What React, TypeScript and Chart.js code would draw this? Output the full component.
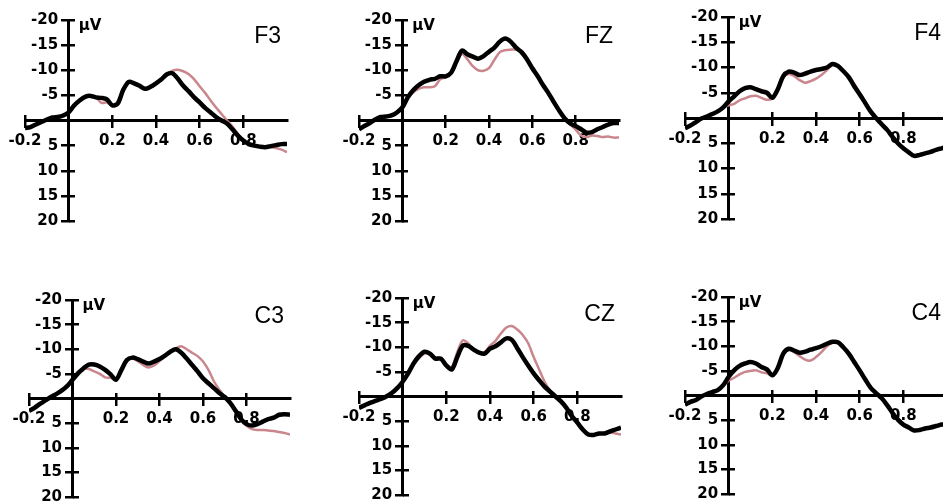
import React, { useEffect, useRef } from "react";
import { Chart, registerables } from "chart.js";

Chart.register(...registerables);

// time axis (s)
const times = [
  -0.2, -0.175, -0.15, -0.125, -0.1, -0.075, -0.05, -0.025, 0,
  0.025, 0.05, 0.075, 0.1, 0.125, 0.15, 0.175, 0.2, 0.225, 0.25,
  0.275, 0.3, 0.325, 0.35, 0.375, 0.4, 0.425, 0.45, 0.475, 0.5,
  0.525, 0.55, 0.575, 0.6, 0.625, 0.65, 0.675, 0.7, 0.725, 0.75,
  0.775, 0.8, 0.825, 0.85, 0.875, 0.9, 0.925, 0.95, 0.975, 1.0,
];

// amplitudes (µV), negative up
const f3Black = [1.5, 1.3, 0.8, 0.3, -0.2, -0.6, -0.7, -1.0, -1.6,
  -3.0, -4.0, -4.7, -4.9, -4.6, -4.5, -4.2, -3.0, -3.4, -6.1,
  -7.7, -7.4, -6.9, -6.3, -6.7, -7.4, -8.2, -9.2, -9.4, -8.3,
  -6.9, -5.8, -4.6, -3.6, -2.5, -1.6, -0.7, 0.0, 0.6, 1.75,
  3.0, 4.0, 4.7, 5.0, 5.2, 5.3, 5.1, 4.9, 4.7, 4.7];
const f3Pink = [1.5, 1.3, 0.8, 0.3, -0.2, -0.6, -0.7, -1.0, -1.6,
  -3.0, -4.0, -4.7, -4.9, -4.6, -3.5, -3.6, -3.0, -3.5, -6.1,
  -7.6, -7.4, -6.9, -6.3, -6.6, -7.4, -8.2, -9.0, -9.9, -10.1,
  -9.8, -9.2, -8.2, -6.8, -5.5, -4.0, -2.6, -1.3, 0.0, 1.2,
  2.7, 4.0, 4.7, 5.0, 5.2, 5.3, 5.3, 5.5, 5.8, 6.3];

const fzBlack = [1.75, 1.1, 0.5, -0.2, -0.7, -0.8, -1.0, -1.6, -2.6,
  -4.6, -6.0, -7.0, -7.7, -8.1, -8.3, -8.8, -8.8, -9.5, -11.8,
  -13.9, -13.2, -12.7, -12.3, -12.8, -13.7, -14.5, -15.7, -16.3, -15.7,
  -14.5, -13.6, -12.2, -10.4, -8.8, -7.0, -5.4, -3.6, -1.9, -0.4,
  0.6, 1.1, 1.75, 2.4, 2.3, 1.75, 1.3, 0.8, 0.5, 0.5];
const fzPink = [1.75, 1.1, 0.5, -0.2, -0.7, -0.8, -1.0, -1.6, -2.6,
  -4.4, -5.6, -6.3, -6.6, -6.6, -6.8, -8.2, -8.6, -9.5, -11.6,
  -13.2, -12.2, -10.8, -10.0, -9.9, -10.4, -12.1, -13.6, -14.0, -14.1,
  -14.1, -13.8, -12.4, -10.5, -8.8, -7.0, -5.4, -3.6, -1.9, -0.4,
  0.8, 1.8, 3.0, 3.3, 3.0, 3.1, 3.3, 3.2, 3.4, 3.4];

const f4Black = [2.0, 1.5, 0.8, 0.1, -0.3, -0.8, -1.3, -2.1, -3.3,
  -4.3, -5.3, -5.9, -6.1, -5.7, -5.3, -5.0, -4.0, -5.7, -8.3,
  -9.2, -9.0, -8.5, -8.8, -9.2, -9.5, -9.7, -10.0, -10.7, -10.3,
  -9.3, -8.1, -6.3, -4.7, -3.0, -1.3, 0.0, 1.2, 2.3, 3.7,
  5.0, 6.0, 6.8, 7.5, 7.3, 7.0, 6.7, 6.3, 6.0, 5.7];
const f4Pink = [2.0, 1.5, 0.8, 0.1, -0.3, -0.8, -1.3, -2.1, -2.5,
  -2.8, -3.5, -3.9, -4.3, -4.4, -4.0, -3.6, -3.9, -5.5, -8.0,
  -8.7, -8.3, -7.5, -7.0, -7.3, -7.8, -8.5, -9.5, -10.5, -10.3,
  -9.3, -8.2, -6.8, -5.0, -3.2, -1.3, 0.0, 1.2, 2.3, 3.7,
  5.0, 6.0, 6.8, 7.5, 7.3, 7.0, 6.7, 6.3, 6.0, 5.7];

const c3Black = [2.5, 1.9, 1.1, 0.4, -0.3, -0.9, -1.6, -2.5, -3.8,
  -5.1, -6.1, -6.9, -6.9, -6.5, -5.8, -4.9, -3.8, -5.8, -7.8,
  -8.3, -8.0, -7.5, -7.1, -7.5, -8.0, -8.7, -9.5, -10.0, -9.3,
  -8.1, -6.8, -5.5, -4.1, -3.1, -2.1, -1.1, -0.3, 0.9, 2.5,
  4.2, 5.2, 5.5, 5.2, 4.7, 4.2, 3.9, 3.3, 3.2, 3.3];
const c3Pink = [2.5, 1.9, 1.1, 0.4, -0.3, -0.9, -1.6, -2.5, -3.8,
  -5.1, -6.0, -6.0, -5.5, -5.0, -4.3, -4.2, -3.8, -5.8, -7.6,
  -8.1, -7.6, -6.8, -6.3, -6.7, -7.6, -8.5, -9.4, -10.2, -10.6,
  -10.0, -9.3, -8.6, -7.5, -5.8, -3.5, -1.8, -0.4, 0.9, 2.5,
  4.3, 5.5, 6.2, 6.4, 6.4, 6.5, 6.6, 6.8, 7.0, 7.3];

const czBlack = [2.3, 1.8, 1.3, 0.9, 0.5, 0.0, -0.7, -1.7, -3.0,
  -4.7, -6.7, -8.2, -9.1, -8.7, -7.7, -7.7, -6.3, -5.5, -8.0,
  -10.3, -10.3, -9.5, -8.9, -8.7, -9.7, -10.2, -11.0, -11.8, -11.5,
  -9.8, -8.0, -6.3, -4.7, -3.3, -2.0, -1.0, 0.0, 1.0, 2.3,
  4.0, 5.3, 6.7, 7.7, 7.8, 7.5, 7.5, 7.1, 6.7, 6.3];
const czPink = [2.3, 1.8, 1.3, 0.9, 0.5, 0.0, -0.7, -1.7, -3.0,
  -4.7, -6.7, -7.8, -8.7, -8.5, -7.9, -7.8, -6.5, -6.0, -9.0,
  -11.4, -10.8, -9.5, -8.9, -9.0, -10.3, -11.3, -12.8, -14.0, -14.3,
  -13.6, -12.5, -10.8, -8.0, -5.5, -3.0, -1.2, 0.0, 1.0, 2.3,
  4.0, 5.3, 6.7, 7.7, 7.8, 7.5, 7.5, 7.3, 7.5, 7.7];

const c4Black = [1.9, 1.3, 0.9, 0.2, -0.3, -0.7, -1.1, -2.1, -3.8,
  -5.1, -6.0, -6.5, -6.8, -6.5, -5.8, -5.3, -4.1, -5.6, -8.5,
  -9.5, -9.1, -8.7, -8.9, -9.3, -9.6, -10.0, -10.5, -10.9, -10.8,
  -9.8, -8.5, -6.8, -5.1, -3.3, -1.6, -0.5, 0.5, 1.9, 3.5,
  4.9, 5.9, 6.5, 7.1, 7.0, 6.7, 6.5, 6.2, 5.9, 5.7];
const c4Pink = [1.9, 1.3, 0.9, 0.2, -0.3, -0.7, -1.1, -2.1, -3.0,
  -3.6, -4.3, -4.8, -5.0, -5.1, -4.7, -4.5, -4.1, -5.5, -8.3,
  -9.3, -8.8, -8.0, -7.3, -7.1, -7.8, -8.8, -10.0, -10.7, -10.8,
  -9.8, -8.5, -6.8, -5.1, -3.3, -1.6, -0.5, 0.5, 1.9, 3.5,
  4.9, 5.9, 6.5, 7.1, 7.0, 6.7, 6.5, 6.3, 6.1, 5.9];

const panelNames = ["F3", "FZ", "F4", "C3", "CZ", "C4"];
const blackSeries = [f3Black, fzBlack, f4Black, c3Black, czBlack, c4Black];
const pinkSeries = [f3Pink, fzPink, f4Pink, c3Pink, czPink, c4Pink];

const xMin = -0.2;
const xMax = 1.0;
const xStep = 0.2;
const yMin = -20;
const yMax = 20;
const yStep = 5;
const unitLabel = "μV";

// plot-area rectangles (page px): left(x=-0.2), right(x=1.0), top(-20), bottom(+20)
const areas = [
  { l: 25, r: 287, t: 20, b: 221 },
  { l: 359, r: 619, t: 20, b: 221 },
  { l: 685, r: 947, t: 17, b: 219 },
  { l: 29, r: 290, t: 300, b: 497 },
  { l: 359, r: 621, t: 298, b: 495 },
  { l: 685, r: 947, t: 297, b: 494 },
];

const TICK_FONT = '"DejaVu Sans", Verdana, sans-serif';
const TITLE_FONT = '"Liberation Sans", Arial, Helvetica, sans-serif';
const BLACK = "#000000";
const PINK = "#c9868d";
const PAD = { left: 42, right: 12, top: 12, bottom: 34 };
const TICK = 6;

function Panel({ idx }: { idx: number }) {
  const ref = useRef<HTMLCanvasElement | null>(null);
  const a = areas[idx];
  const w = a.r - a.l + PAD.left + PAD.right;
  const h = a.b - a.t + PAD.top + PAD.bottom;

  useEffect(() => {
    if (!ref.current) return;
    const zeroFit = (s: any) => {
      if (s.isHorizontal()) s.height = 0;
      else s.width = 0;
      s.paddingLeft = 0;
      s.paddingRight = 0;
      s.paddingTop = 0;
      s.paddingBottom = 0;
    };
    const tickFont = { family: TICK_FONT, size: 15, weight: "bold" as const };
    const xTickColor = (c: any) =>
      c.tick && Math.abs(c.tick.value - xMax) < 1e-9 ? "rgba(0,0,0,0)" : BLACK;
    const xLabel = (v: any) => {
      const n = Number(v);
      if (Math.abs(n) < 1e-9 || Math.abs(n - xMax) < 1e-9) return "";
      return n.toFixed(1);
    };
    const chart = new Chart(ref.current, {
      type: "line",
      data: {
        datasets: [
          {
            data: times.map((t, i) => ({ x: t, y: blackSeries[idx][i] })),
            borderColor: BLACK,
            borderWidth: 4.5,
            pointRadius: 0,
            tension: 0.3,
            fill: false,
          },
          {
            data: times.map((t, i) => ({ x: t, y: pinkSeries[idx][i] })),
            borderColor: PINK,
            borderWidth: 2.5,
            pointRadius: 0,
            tension: 0.3,
            fill: false,
          },
        ],
      },
      options: {
        animation: false,
        responsive: false,
        events: [],
        layout: { padding: PAD },
        plugins: { legend: { display: false }, tooltip: { enabled: false }, title: { display: false } },
        scales: {
          x: {
            type: "linear",
            min: xMin,
            max: xMax,
            position: { y: 0 } as any,
            afterFit: zeroFit,
            ticks: {
              stepSize: xStep,
              autoSkip: false,
              maxRotation: 0,
              padding: 6,
              color: BLACK,
              font: tickFont,
              callback: xLabel,
            },
            grid: {
              drawOnChartArea: false,
              drawTicks: true,
              tickLength: TICK,
              lineWidth: 2.5,
              color: xTickColor,
            },
            border: { display: true, color: BLACK, width: 3 },
          },
          x2: {
            type: "linear",
            axis: "x",
            min: xMin,
            max: xMax,
            position: { y: 0 } as any,
            afterFit: zeroFit,
            ticks: { stepSize: xStep, autoSkip: false, maxRotation: 0, callback: () => "" },
            grid: {
              drawOnChartArea: false,
              drawTicks: true,
              tickLength: -TICK,
              lineWidth: 2.5,
              color: xTickColor,
            },
            border: { display: false },
          },
          y: {
            type: "linear",
            min: yMin,
            max: yMax,
            reverse: true,
            position: { x: 0 } as any,
            afterFit: zeroFit,
            ticks: {
              stepSize: yStep,
              color: BLACK,
              font: tickFont,
              callback: (v: any) => (Number(v) === 0 ? "" : String(v) + "  "),
            },
            grid: {
              drawOnChartArea: false,
              drawTicks: true,
              tickLength: TICK,
              lineWidth: 2.5,
              color: BLACK,
            },
            border: { display: true, color: BLACK, width: 3 },
          },
          y2: {
            type: "linear",
            axis: "y",
            min: yMin,
            max: yMax,
            reverse: true,
            position: { x: 0 } as any,
            afterFit: zeroFit,
            ticks: { stepSize: yStep, callback: () => "" },
            grid: {
              drawOnChartArea: false,
              drawTicks: true,
              tickLength: -TICK,
              lineWidth: 2.5,
              color: BLACK,
            },
            border: { display: false },
          },
        },
      } as any,
    });
    return () => chart.destroy();
  }, [idx]);

  const x0px = a.l + (a.r - a.l) * ((0 - xMin) / (xMax - xMin));
  return (
    <>
      <canvas
        ref={ref}
        width={w}
        height={h}
        style={{ position: "absolute", left: a.l - PAD.left, top: a.t - PAD.top, width: w, height: h }}
      />
      <div
        style={{
          position: "absolute",
          left: x0px + 10,
          top: a.t - 2,
          font: `bold 15px ${TICK_FONT}`,
          lineHeight: "15px",
          color: BLACK,
          whiteSpace: "nowrap",
        }}
      >
        {unitLabel}
      </div>
      <div
        style={{
          position: "absolute",
          left: a.r - 100 - 6,
          width: 100,
          textAlign: "right",
          top: a.t + 4,
          font: `23px ${TITLE_FONT}`,
          lineHeight: "23px",
          color: BLACK,
          whiteSpace: "nowrap",
        }}
      >
        {panelNames[idx]}
      </div>
    </>
  );
}

export default function App() {
  return (
    <div
      style={{
        position: "absolute",
        left: 0,
        top: 0,
        width: 943,
        height: 502,
        overflow: "hidden",
        background: "#ffffff",
      }}
    >
      {panelNames.map((_, i) => (
        <Panel key={i} idx={i} />
      ))}
    </div>
  );
}
